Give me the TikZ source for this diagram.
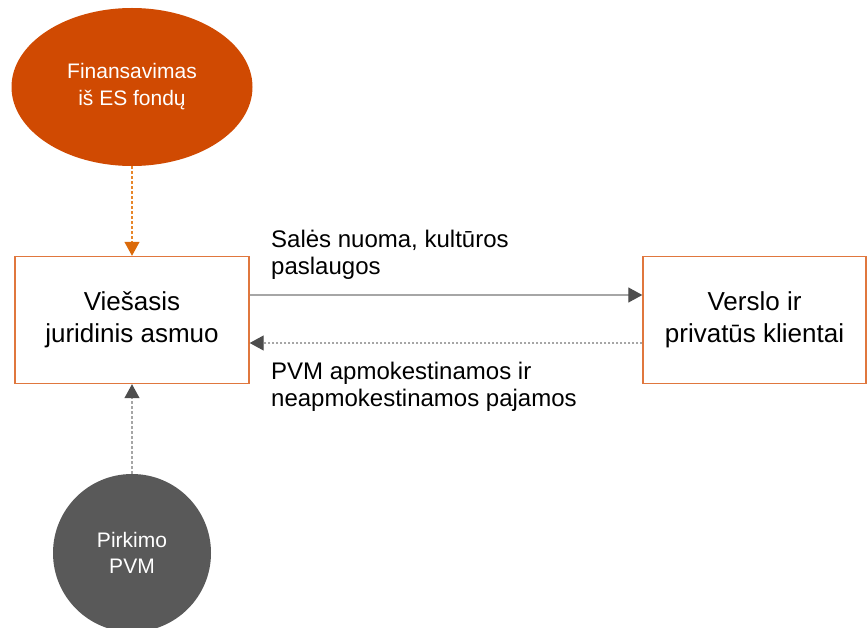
\documentclass[tikz,border=0pt]{standalone}
\usepackage{fontspec}
\setmainfont{Liberation Sans}
\usetikzlibrary{shapes.geometric,arrows.meta}
\definecolor{ellorange}{HTML}{D04A02}
\definecolor{boxorange}{HTML}{E0773E}
\definecolor{arrorange}{HTML}{E8862A}
\definecolor{headorange}{HTML}{DB6A0A}
\definecolor{circgray}{HTML}{595959}
\definecolor{linegray}{HTML}{A6A6A6}
\definecolor{headgray}{HTML}{4D4D4D}
\tikzset{
  box/.style={draw=boxorange, line width=1.4pt, minimum height=127pt, inner sep=0pt,
    align=center, font=\fontsize{26}{32}\selectfont},
  lbl/.style={anchor=north west, inner sep=0pt, align=left, font=\fontsize{24}{27}\selectfont},
  orangearrow/.style={draw=arrorange, line width=1.2pt, dash pattern=on 3pt off 2pt,
    -{Triangle[length=14pt,width=15pt,fill=headorange,color=headorange]}},
  grayarrow/.style={draw=linegray, line width=1.2pt,
    -{Triangle[length=14pt,width=15pt,fill=headgray,color=headgray]}},
  graydotted/.style={grayarrow, dash pattern=on 2pt off 2pt},
}
\begin{document}
\begin{tikzpicture}[x=1pt,y=-1pt]
\clip (0,0) rectangle (867,628);
\fill[white] (0,0) rectangle (867,628);
\node[ellipse, fill=ellorange, minimum width=241pt, minimum height=158pt, inner sep=0pt,
  text=white, align=center, font=\fontsize{21}{27}\selectfont] (fin) at (132,87) {Finansavimas\\iš ES fondų};
\node[box, minimum width=234pt] (vja) at (132,320) {Viešasis\\juridinis asmuo};
\node[box, minimum width=223pt] (vpk) at (754.5,320) {Verslo ir\\privatūs klientai};
\node[circle, fill=circgray, minimum size=158pt, inner sep=0pt, text=white, align=center,
  font=\fontsize{21}{26}\selectfont] (pvm) at (132,553) {Pirkimo\\PVM};
\node[lbl] (l1) at (271,230) {Salės nuoma, kultūros\\paslaugos};
\node[lbl] (l2) at (271,362) {PVM apmokestinamos ir\\neapmokestinamos pajamos};
\draw[orangearrow] (fin.south) -- (vja.north);
\draw[grayarrow] ([yshift=25pt]vja.east) -- ([yshift=25pt]vpk.west);
\draw[graydotted] ([yshift=-23pt]vpk.west) -- ([yshift=-23pt]vja.east);
\draw[graydotted, dash pattern=on 3pt off 2pt] (pvm.north) -- (vja.south);
\end{tikzpicture}
\end{document}
